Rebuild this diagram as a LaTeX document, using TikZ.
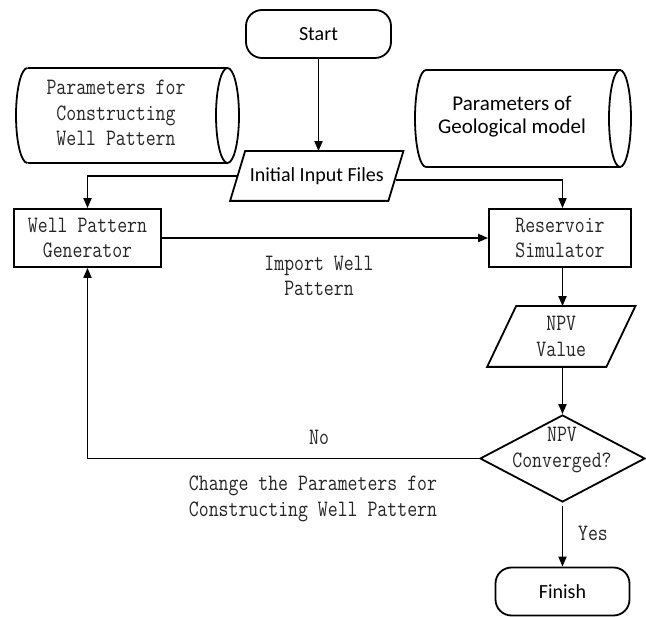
\documentclass[tikz,border=0pt]{standalone}
\usepackage{fontspec}
\setmainfont{Carlito}
\newfontfamily\monofont[FakeStretch=0.82]{Latin Modern Mono}
\usetikzlibrary{arrows.meta,shapes.geometric}
\begin{document}
\begin{tikzpicture}[x=1pt,y=-1pt,
  line width=1.8pt,
  arr/.style={-{Triangle[length=10pt,width=8pt]}},
  sans/.style={font=\fontsize{20}{24}\selectfont, align=center},
  mono/.style={font=\monofont\fontsize{23.5}{25.5}\selectfont, align=center, text=black!85},
  term/.style={draw, rounded corners=16pt, inner sep=0pt},
  proc/.style={draw, inner sep=0pt, minimum width=147pt, minimum height=58pt},
  io/.style={inner sep=0pt},
]
\useasboundingbox (0,0) rectangle (646,617);

% terminals
\node[term, minimum width=145pt, minimum height=48pt, sans] (start) at (318.5,34) {Start};
\node[term, minimum width=134pt, minimum height=48pt, sans] (fin) at (562.5,591.5) {Finish};

% processes
\node[proc, mono] (wpg) at (87.5,238) {Well Pattern\\Generator};
\node[proc, mono, minimum width=142pt] (rs) at (560,238) {Reservoir\\Simulator};

% input/output parallelograms
\node[io, minimum width=156.5pt, minimum height=48pt, sans] (iif) at (316.75,176) {Initial Input Files};
\draw ([xshift=-7.5pt]iif.south west) -- ([xshift=7.5pt]iif.north west) -- ([xshift=7.5pt]iif.north east) -- ([xshift=-7.5pt]iif.south east) -- cycle;

\node[io, minimum width=117.5pt, minimum height=59pt, mono] (npv) at (561.25,336.5) {NPV\\Value};
\draw ([xshift=-14.5pt]npv.south west) -- ([xshift=14.5pt]npv.north west) -- ([xshift=14.5pt]npv.north east) -- ([xshift=-14.5pt]npv.south east) -- cycle;

% decision
\node[diamond, draw, minimum width=165pt, minimum height=87pt, inner sep=0pt] (dec) at (562.5,458.5) {};
\node[mono] (dectext) at (562,450) {NPV\\Converged?};

% cylinders
\draw (27.5,68) -- (227.5,68) (27.5,163) -- (227.5,163);
\draw (227.5,115.5) ellipse [x radius=11.5pt, y radius=47.5pt];
\draw (27.5,68) arc [start angle=90, end angle=270, x radius=11.5pt, y radius=47.5pt];
\node[mono] (cylL) at (116,113) {Parameters for\\Constructing\\Well Pattern};

\draw (426,70) -- (620,70) (426,167) -- (620,167);
\draw (620,118.5) ellipse [x radius=11pt, y radius=48.5pt];
\draw (426,70) arc [start angle=90, end angle=270, x radius=11pt, y radius=48.5pt];
\node[font=\fontsize{21}{23}\selectfont, align=center] (cylR) at (512,117) {Parameters of\\Geological model};

% labels
\node[mono] (lblImport) at (319,276) {Import Well\\Pattern};
\node[mono] (lblNo) at (319,437) {No};
\node[mono] (lblChange) at (313,499) {Change the Parameters for\\Constructing Well Pattern};
\node[mono] (lblYes) at (593,533) {Yes};

% connectors
\draw[arr] (start.south) -- (start.south |- iif.north);
\draw[arr] (iif.west) -| (wpg.north);
\draw[arr] ([yshift=-4pt]iif.east) -| (dec.north |- rs.north);
\draw[arr] (wpg.east) -- (rs.west);
\draw[arr] (dec.north |- rs.south) -- (dec.north |- npv.north);
\draw[arr] (dec.north |- npv.south) -- (dec.north);
\draw[arr] (dec.west) -| (wpg.south);
\draw[arr, shorten <=3pt] (dec.south) -- (fin.north);
\end{tikzpicture}
\end{document}
